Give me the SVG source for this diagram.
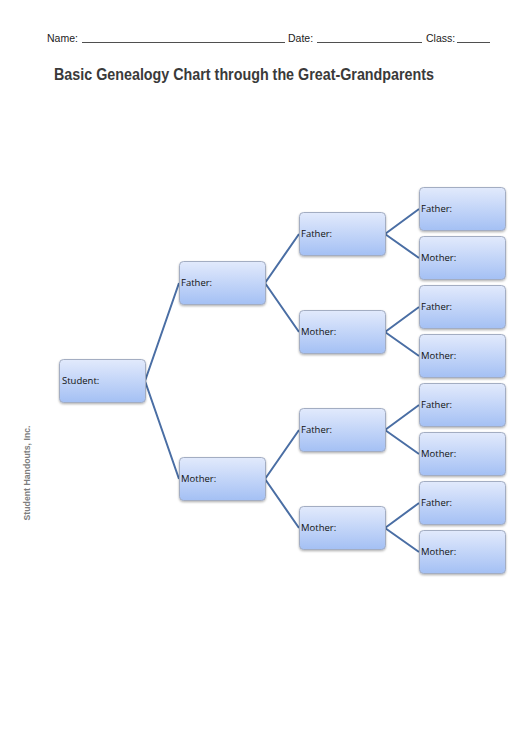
<svg xmlns="http://www.w3.org/2000/svg" width="530" height="749" viewBox="0 0 530 749">
<defs>
<linearGradient id="g" x1="0" y1="0" x2="0" y2="1">
<stop offset="0" stop-color="#e2eafc"/>
<stop offset="1" stop-color="#a4c0f4"/>
</linearGradient>
<filter id="sh" x="-10%" y="-10%" width="130%" height="140%">
<feDropShadow dx="0" dy="1.2" stdDeviation="1" flood-color="#000" flood-opacity="0.3"/>
</filter>
</defs>
<style>
.box{fill:url(#g);stroke:#a3adc2;stroke-width:1;filter:url(#sh)}
.lbl{font-family:"Open Sans","Liberation Sans",sans-serif;font-size:9.5px;fill:#111}
.hdr{font-family:"Liberation Sans",sans-serif;font-size:10.5px;fill:#222}
.ln{stroke:#222;stroke-width:0.8}
.c{stroke:#4a6ea4;stroke-width:2;fill:none}
</style>
<rect width="530" height="749" fill="#fff"/>
<g id="header">
<text class="hdr" x="47" y="42">Name:</text>
<line class="ln" x1="82" y1="42.5" x2="285" y2="42.5"/>
<text class="hdr" x="288" y="42">Date:</text>
<line class="ln" x1="317" y1="42.5" x2="422" y2="42.5"/>
<text class="hdr" x="426" y="42">Class:</text>
<line class="ln" x1="457" y1="42.5" x2="490" y2="42.5"/>
</g>
<text id="title" x="54" y="80" font-family="Liberation Sans,sans-serif" font-weight="bold" font-size="16" fill="#3a3a3a" textLength="380" lengthAdjust="spacingAndGlyphs">Basic Genealogy Chart through the Great-Grandparents</text>
<text id="side" transform="translate(30,473) rotate(-90)" text-anchor="middle" font-family="Liberation Sans,sans-serif" font-weight="bold" font-size="9" fill="#7d7d7d" textLength="95" lengthAdjust="spacingAndGlyphs">Student Handouts, Inc.</text>
<g id="connectors">
<path class="c" d="M145,381 L179,283 M145,381 L179,479"/>
<path class="c" d="M265,283 L299,234 M265,283 L299,332 M265,479 L299,430 M265,479 L299,528"/>
<path class="c" d="M385,234 L419,209 M385,234 L419,258 M385,332 L419,307 M385,332 L419,356 M385,430 L419,405 M385,430 L419,454 M385,528 L419,503 M385,528 L419,552"/>
</g>
<g id="student"><rect class="box" x="59.5" y="359.5" width="86" height="43" rx="4"/><text class="lbl" x="62" y="384">Student:</text></g>
<g id="f"><rect class="box" x="179.5" y="261.5" width="86" height="43" rx="4"/><text class="lbl" x="181" y="286">Father:</text></g>
<g id="m"><rect class="box" x="179.5" y="457.5" width="86" height="43" rx="4"/><text class="lbl" x="181" y="482">Mother:</text></g>
<g id="ff"><rect class="box" x="299.5" y="212.5" width="86" height="43" rx="4"/><text class="lbl" x="301" y="237">Father:</text></g>
<g id="fm"><rect class="box" x="299.5" y="310.5" width="86" height="43" rx="4"/><text class="lbl" x="301" y="335">Mother:</text></g>
<g id="mf"><rect class="box" x="299.5" y="408.5" width="86" height="43" rx="4"/><text class="lbl" x="301" y="433">Father:</text></g>
<g id="mm"><rect class="box" x="299.5" y="506.5" width="86" height="43" rx="4"/><text class="lbl" x="301" y="531">Mother:</text></g>
<g id="fff"><rect class="box" x="419.5" y="187.5" width="86" height="43" rx="4"/><text class="lbl" x="421" y="212">Father:</text></g>
<g id="ffm"><rect class="box" x="419.5" y="236.5" width="86" height="43" rx="4"/><text class="lbl" x="421" y="261">Mother:</text></g>
<g id="fmf"><rect class="box" x="419.5" y="285.5" width="86" height="43" rx="4"/><text class="lbl" x="421" y="310">Father:</text></g>
<g id="fmm"><rect class="box" x="419.5" y="334.5" width="86" height="43" rx="4"/><text class="lbl" x="421" y="359">Mother:</text></g>
<g id="mff"><rect class="box" x="419.5" y="383.5" width="86" height="43" rx="4"/><text class="lbl" x="421" y="408">Father:</text></g>
<g id="mfm"><rect class="box" x="419.5" y="432.5" width="86" height="43" rx="4"/><text class="lbl" x="421" y="457">Mother:</text></g>
<g id="mmf"><rect class="box" x="419.5" y="481.5" width="86" height="43" rx="4"/><text class="lbl" x="421" y="506">Father:</text></g>
<g id="mmm"><rect class="box" x="419.5" y="530.5" width="86" height="43" rx="4"/><text class="lbl" x="421" y="555">Mother:</text></g>
</svg>
